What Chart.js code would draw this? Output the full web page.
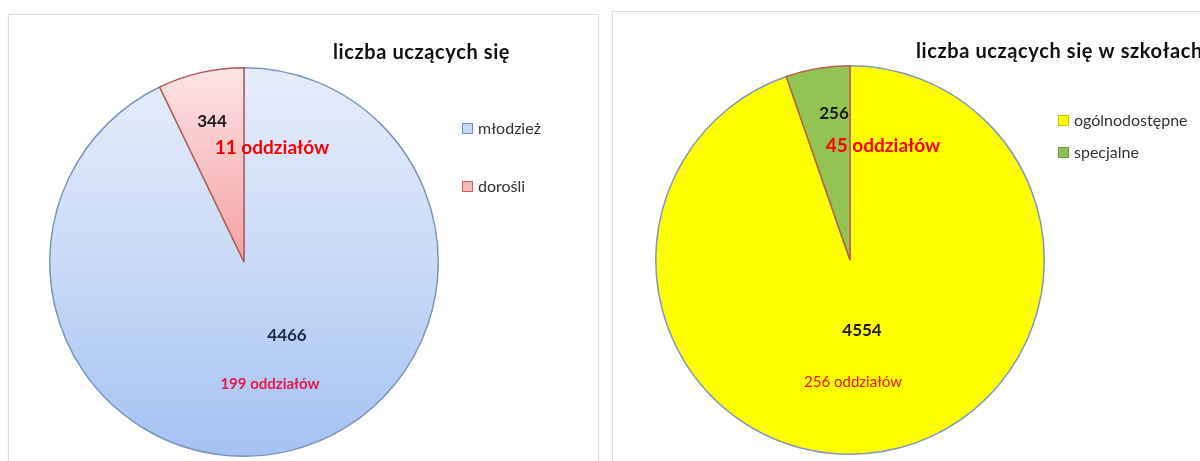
<!DOCTYPE html>
<html>
<head>
<meta charset="utf-8">
<script src="https://cdn.jsdelivr.net/npm/chart.js@4"></script>
<style>
  body { margin: 0; background: #fff; width: 1200px; height: 461px; overflow: hidden; position: relative; }
  .panel { position: absolute; border: 1px solid #dcdcdc; background: #fff; box-shadow: 0 0 3px rgba(0,0,0,0.06); }
  canvas { position: absolute; top: 0; }
</style>
</head>
<body>
<div class="panel" style="left:8px; top:14px; width:589px; height:460px;"></div>
<div class="panel" style="left:612px; top:11px; width:600px; height:460px;"></div>
<canvas id="chart-left" width="600" height="461" style="left:0px"></canvas>
<canvas id="chart-right" width="594" height="461" style="left:606px"></canvas>
<script>
// dane - wykres lewy
let titleLeft = "liczba uczących się";
let labelsLeft = ["młodzież", "dorośli"];
let valuesLeft = [4466, 344];
let oddzialyLeft = [199, 11];

// dane - wykres prawy
let titleRight = "liczba uczących się w szkołach";
let labelsRight = ["ogólnodostępne", "specjalne"];
let valuesRight = [4554, 256];
let oddzialyRight = [256, 45];

const FONT = "Lato, 'Open Sans', sans-serif";

function vGrad(ctx, area, stops) {
    let g = ctx.createLinearGradient(0, area.top, 0, area.bottom);
    stops.forEach(s => g.addColorStop(s[0], s[1]));
    return g;
}

// tytul, legenda i etykiety
const pieText = {
    id: 'pieText',
    afterDatasetsDraw(chart, args, opts) {
        const ctx = chart.ctx;
        const arc = chart.getDatasetMeta(0).data[0];
        const cx = arc.x, cy = arc.y;
        ctx.save();
        ctx.textBaseline = 'middle';
        // etykiety
        opts.labels.forEach(l => {
            ctx.font = l.font;
            ctx.fillStyle = l.color;
            ctx.textAlign = 'center';
            ctx.fillText(l.text, cx + l.dx, cy + l.dy);
        });
        // tytul
        ctx.font = "bold 20px " + FONT;
        ctx.letterSpacing = '0.6px';
        ctx.fillStyle = '#111';
        ctx.textAlign = 'left';
        ctx.fillText(opts.title, opts.titleX, opts.titleY);
        ctx.letterSpacing = '0px';
        // legenda
        ctx.font = "16px " + FONT;
        chart.data.labels.forEach((lab, i) => {
            let y = opts.legendY + i * opts.legendGap;
            ctx.fillStyle = opts.legendFill[i];
            ctx.fillRect(opts.legendX, y - 5, 11, 11);
            ctx.strokeStyle = opts.legendStroke[i];
            ctx.lineWidth = 1;
            ctx.strokeRect(opts.legendX + 0.5, y - 4.5, 10, 10);
            ctx.fillStyle = '#333';
            ctx.fillText(lab, opts.legendX + 16, y + 1);
        });
        ctx.restore();
    }
};

function makePie(id, labels, values, colors, borders, textOpts, pad) {
    let c = document.getElementById(id).getContext("2d");
    return new Chart(c, {
        type: 'pie',
        data: {
            labels: labels,
            datasets: [{
                data: values,
                backgroundColor: colors,
                borderColor: borders,
                borderWidth: 1.5
            }]
        },
        options: {
            responsive: false,
            animation: false,
            layout: { padding: pad },
            plugins: {
                legend: { display: false },
                tooltip: { enabled: false },
                pieText: textOpts
            }
        },
        plugins: [pieText]
    });
}

// gradienty jak w Excelu
const leftStops = [
    [[0, '#e6edfa'], [0.5, '#c9daf6'], [1, '#a4c2f2']],
    [[0, '#fde4e6'], [0.5, '#f3a0a2'], [1, '#f08080']]
];
const leftFallback = ['#c9daf6', '#f8c0c0'];

makePie("chart-left", labelsLeft, valuesLeft,
    function (ctx) {
        let area = ctx.chart.chartArea;
        if (!area) return leftFallback[ctx.dataIndex];
        return vGrad(ctx.chart.ctx, area, leftStops[ctx.dataIndex]);
    },
    ['#7d95bd', '#b65858'],
    {
        title: titleLeft, titleX: 333, titleY: 53,
        legendX: 462, legendY: 128, legendGap: 58,
        legendFill: ['#c6d8f5', '#f6b8b8'], legendStroke: ['#6f8fc8', '#c86060'],
        labels: [
            { text: String(valuesLeft[1]), dx: -32, dy: -140, font: "bold 17px " + FONT, color: '#1a1a1a' },
            { text: oddzialyLeft[1] + " oddziałów", dx: 28, dy: -114, font: "bold 19px " + FONT, color: '#ff0000' },
            { text: String(valuesLeft[0]), dx: 43, dy: 74, font: "bold 17px " + FONT, color: '#1f2a44' },
            { text: oddzialyLeft[0] + " oddziałów", dx: 26, dy: 122, font: "bold 15px " + FONT, color: '#e8174a' }
        ]
    },
    { left: 49, top: 67, right: 600 - 439, bottom: 461 - 457 }
);

makePie("chart-right", labelsRight, valuesRight,
    ['#ffff00', '#92c353'],
    ['#8296c4', '#b9604a'],
    {
        title: titleRight, titleX: 310, titleY: 52,
        legendX: 452, legendY: 120, legendGap: 32,
        legendFill: ['#ffff00', '#8fbf55'], legendStroke: ['#c8c800', '#6f9a3c'],
        labels: [
            { text: String(valuesRight[1]), dx: -16, dy: -146, font: "bold 17px " + FONT, color: '#1a1a1a' },
            { text: oddzialyRight[1] + " oddziałów", dx: 33, dy: -114, font: "bold 19px " + FONT, color: '#ff0000' },
            { text: String(valuesRight[0]), dx: 12, dy: 71, font: "bold 17px " + FONT, color: '#1a1a1a' },
            { text: oddzialyRight[0] + " oddziałów", dx: 3, dy: 122, font: "15px " + FONT, color: '#ee1111' }
        ]
    },
    { left: 49, top: 65, right: 594 - 439, bottom: 461 - 455 }
);
</script>
</body>
</html>
